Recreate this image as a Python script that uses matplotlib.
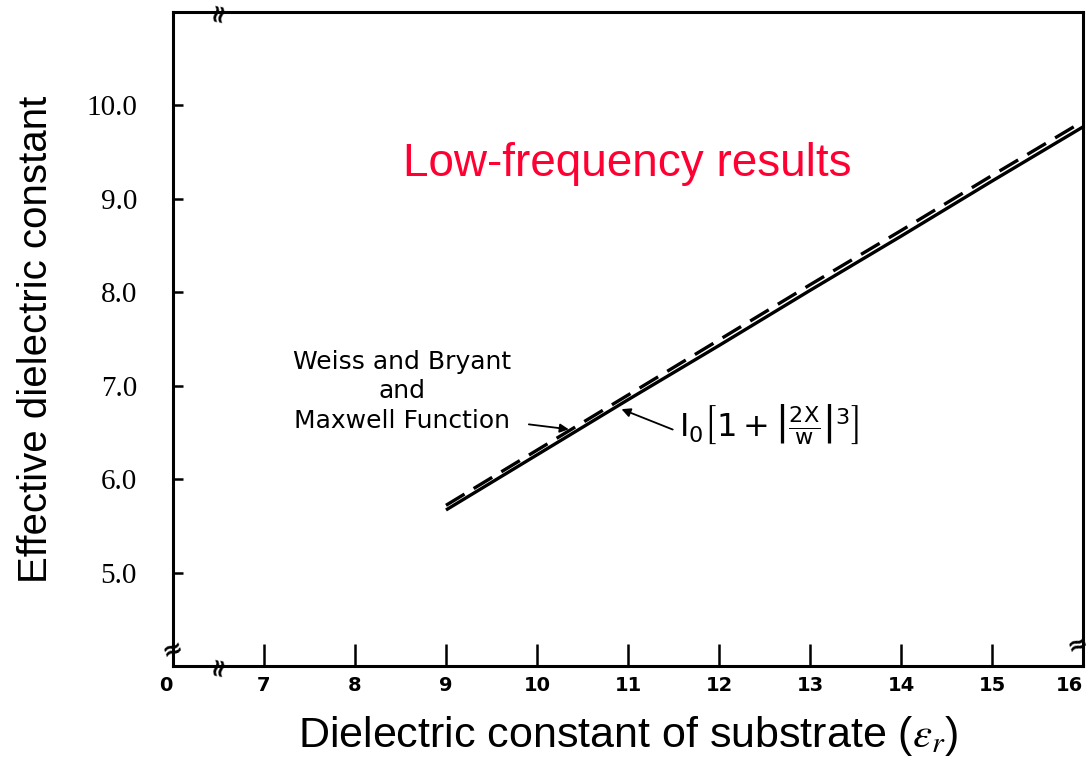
import numpy as np
import matplotlib.pyplot as plt

# values
er = [9, 10, 11, 12, 13, 14, 15, 16]
eff_weiss = [5.67, 6.26, 6.85, 7.43, 8.02, 8.60, 9.19, 9.77]
eff_io = [5.72, 6.31, 6.90, 7.49, 8.08, 8.66, 9.25, 9.83]

xtick_pos = [6, 7, 8, 9, 10, 11, 12, 13, 14, 15, 16]
xtick_lab = ['0', '7', '8', '9', '10', '11', '12', '13', '14', '15', '16']
ytick_pos = [5, 6, 7, 8, 9, 10]
ytick_lab = ['5.0', '6.0', '7.0', '8.0', '9.0', '10.0']

fig = plt.figure(figsize=(10.88, 7.73), dpi=100)
ax = fig.add_axes([0.159, 0.1384, 0.8364, 0.8461])

ax.plot(er, eff_weiss, color='black', lw=2.4, solid_capstyle='butt')
ax.plot(er, eff_io, color='black', lw=2.4, dashes=(6.5, 3.2))

ax.set_xlim(6, 16)
ax.set_ylim(4, 11)

for s in ax.spines.values():
    s.set_linewidth(2.2)

ax.set_xticks(xtick_pos)
ax.set_xticklabels(xtick_lab, fontsize=14, fontweight='bold', family='DejaVu Sans')
ax.tick_params(axis='x', direction='in', length=16, width=1.8, pad=7)
ax.get_xticklabels()[0].set_ha('right')
ax.get_xticklabels()[-1].set_ha('right')
ax.set_yticks(ytick_pos)
ax.set_yticklabels(ytick_lab, fontsize=21, family='Liberation Serif')
ax.tick_params(axis='y', direction='in', length=7, width=1.8, pad=26)

ax.set_xlabel(r'Dielectric constant of substrate ($\mathit{\varepsilon_r}$)',
              fontsize=31, family='Liberation Sans', labelpad=14, math_fontfamily='stix')
ax.set_ylabel('Effective dielectric constant', fontsize=29, family='Liberation Sans',
              labelpad=22)

ax.text(10.99, 9.37, 'Low-frequency results', color='#ff0033', fontsize=33,
        family='Liberation Sans', ha='center', va='center')

ax.text(8.52, 6.94, 'Weiss and Bryant\nand\nMaxwell Function', fontsize=18,
        family='DejaVu Sans', ha='center', va='center', multialignment='center',
        linespacing=1.3)
ax.annotate('', xy=(10.38, 6.53), xytext=(9.88, 6.59),
            arrowprops=dict(arrowstyle='-|>', color='black', lw=1.3, mutation_scale=13))

ax.text(11.56, 6.58, r'$\mathrm{I_0}\left[1+\left|\frac{2\mathrm{X}}{\mathrm{w}}\right|^3\right]$',
        fontsize=23, ha='left', va='center')
ax.annotate('', xy=(10.9, 6.76), xytext=(11.52, 6.52),
            arrowprops=dict(arrowstyle='-|>', color='black', lw=1.3, mutation_scale=13))

# axis break marks
for bx, by, rot in [(6.5, 11, 80), (6.5, 4, 80), (6, 4.17, 20), (15.94, 4.22, 20)]:
    ax.text(bx, by, '≈', fontsize=18, fontweight='bold', rotation=rot, ha='center',
            va='center', clip_on=False, family='DejaVu Sans')

fig.savefig('out.png', dpi=100)
